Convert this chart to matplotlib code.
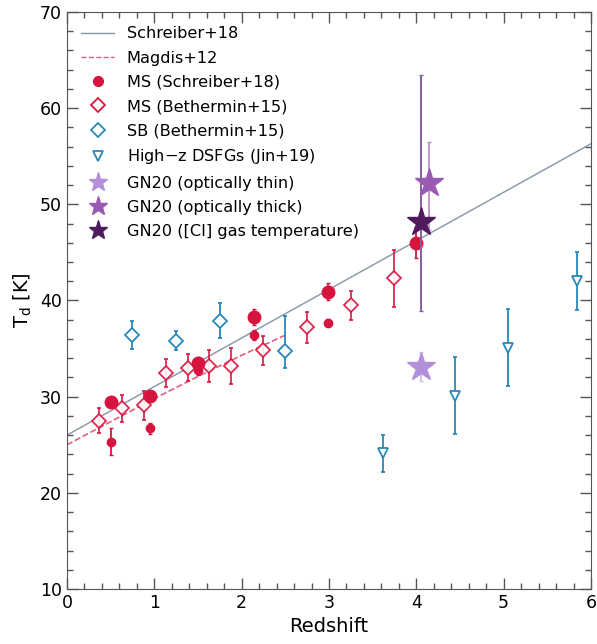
import numpy as np
import matplotlib
matplotlib.use("Agg")
from matplotlib import pyplot as plt
from matplotlib.lines import Line2D
from matplotlib.ticker import MultipleLocator

# model relations
schreiber_z = [0.0, 6.0]
schreiber_T = [26.0, 56.3]
magdis_z = [0.0, 0.5, 1.0, 1.5, 2.0, 2.5]
magdis_T = [25.0, 27.4, 29.8, 32.1, 34.3, 36.4]

# MS (Schreiber+18): large and small circles
s18_big_z = [0.50, 0.95, 1.50, 2.14, 2.99, 4.00]
s18_big_T = [29.4, 30.1, 33.5, 38.3, 40.9, 46.0]
s18_big_e = [0.5, 0.5, 0.6, 0.8, 0.9, 1.6]
s18_small_z = [0.50, 0.95, 1.50, 2.14, 2.99]
s18_small_T = [25.3, 26.7, 32.8, 36.4, 37.7]
s18_small_e = [1.4, 0.6, 0.5, 0.5, 0.4]

# MS (Bethermin+15)
b15ms_z = [0.37, 0.63, 0.88, 1.13, 1.38, 1.63, 1.88, 2.25, 2.75, 3.25, 3.75]
b15ms_T = [27.5, 28.8, 29.1, 32.5, 33.0, 33.2, 33.2, 34.8, 37.2, 39.5, 42.3]
b15ms_e = [1.3, 1.4, 1.5, 1.45, 1.4, 1.65, 1.9, 1.55, 1.6, 1.5, 3.0]

# SB (Bethermin+15)
b15sb_z = [0.75, 1.25, 1.75, 2.50]
b15sb_T = [36.45, 35.8, 37.9, 34.75]
b15sb_lo = [1.45, 1.0, 1.8, 1.8]
b15sb_hi = [1.45, 1.0, 1.8, 3.6]

# High-z DSFGs (Jin+19)
jin_z = [3.62, 4.44, 5.05, 5.84]
jin_T = [24.1, 30.1, 35.1, 42.0]
jin_e = [1.95, 4.0, 4.0, 3.0]

# GN20: z, T, err low, err high
gn_thin = (4.05, 33.1, 1.5, 1.5)
gn_thick = (4.15, 52.2, 4.9, 4.3)
gn_ci = (4.05, 48.2, 9.3, 15.2)

red = "#d7143f"
blue = "#2a88b8"
c_thin = "#b38fd9"
c_thick = "#9a5ab4"
c_ci = "#501a5e"

plt.rcParams["font.family"] = "DejaVu Sans"
fig = plt.figure(figsize=(5.97, 6.44), dpi=100)
ax = fig.add_axes([0.1122, 0.0854, 0.8777, 0.896])

ax.plot(schreiber_z, schreiber_T, "-", color="#8594a6", lw=1.0, zorder=2)
ax.plot(magdis_z, magdis_T, "--", color="#e0607e", lw=1.2, zorder=2)

ax.errorbar(b15ms_z, b15ms_T, yerr=b15ms_e, fmt="D", ms=7, mfc="white", mec=red,
            mew=1.3, ecolor=red, elinewidth=1.3, capsize=1.5, zorder=3, alpha=0.9)
ax.errorbar(b15sb_z, b15sb_T, yerr=[b15sb_lo, b15sb_hi], fmt="D", ms=7, mfc="white",
            mec=blue, mew=1.3, ecolor=blue, elinewidth=1.3, capsize=1.5, zorder=3)
ax.errorbar(jin_z, jin_T, yerr=jin_e, fmt="v", ms=7, mfc="white", mec=blue, mew=1.3,
            ecolor=blue, elinewidth=1.3, capsize=1.5, zorder=3)
ax.errorbar(s18_small_z, s18_small_T, yerr=s18_small_e, fmt="o", ms=6, color=red,
            elinewidth=1.3, capsize=1.5, zorder=4)
ax.errorbar(s18_big_z, s18_big_T, yerr=s18_big_e, fmt="o", ms=9, color=red,
            elinewidth=1.3, capsize=1.5, zorder=4)

ax.errorbar([gn_ci[0]], [gn_ci[1]], yerr=[[gn_ci[2]], [gn_ci[3]]], fmt="none",
            ecolor="#86609a", elinewidth=1.4, capsize=1.5, zorder=5)
ax.errorbar([gn_thick[0]], [gn_thick[1]], yerr=[[gn_thick[2]], [gn_thick[3]]], fmt="none",
            ecolor="#b890c8", elinewidth=1.3, capsize=1.5, zorder=5)
ax.errorbar([gn_thin[0]], [gn_thin[1]], yerr=[[gn_thin[2]], [gn_thin[3]]], fmt="none",
            ecolor="#d4bde8", elinewidth=1.3, capsize=1.5, zorder=5)
ax.plot(gn_thin[0], gn_thin[1], "*", ms=21, color=c_thin, mec=c_thin, zorder=6)
ax.plot(gn_thick[0], gn_thick[1], "*", ms=21, color=c_thick, mec=c_thick, zorder=6)
ax.plot(gn_ci[0], gn_ci[1], "*", ms=21, color=c_ci, mec=c_ci, zorder=6)

handles = [
    Line2D([], [], color="#8594a6", lw=1.0),
    Line2D([], [], color="#e0607e", lw=1.0, ls="--"),
    Line2D([], [], marker="o", ls="none", ms=7, color=red),
    Line2D([], [], marker="D", ls="none", ms=7, mfc="white", mec=red, mew=1.3),
    Line2D([], [], marker="D", ls="none", ms=7, mfc="white", mec=blue, mew=1.3),
    Line2D([], [], marker="v", ls="none", ms=7, mfc="white", mec=blue, mew=1.3),
    Line2D([], [], marker="*", ls="none", ms=14, color=c_thin),
    Line2D([], [], marker="*", ls="none", ms=14, color=c_thick),
    Line2D([], [], marker="*", ls="none", ms=14, color=c_ci),
]
labels = ["Schreiber+18", "Magdis+12", "MS (Schreiber+18)", "MS (Bethermin+15)",
          "SB (Bethermin+15)", "High$-$z DSFGs (Jin+19)", "GN20 (optically thin)",
          "GN20 (optically thick)", "GN20 ([CI] gas temperature)"]
ax.legend(handles, labels, loc="upper left", frameon=False, fontsize=11.6,
          labelspacing=0.57, handlelength=2.0, borderaxespad=0.5)

ax.set_xlim(0, 6)
ax.set_ylim(10, 70)
ax.xaxis.set_major_locator(MultipleLocator(1))
ax.xaxis.set_minor_locator(MultipleLocator(0.2))
ax.yaxis.set_major_locator(MultipleLocator(10))
ax.yaxis.set_minor_locator(MultipleLocator(2))
ax.tick_params(which="both", direction="in", top=True, right=True, labelsize=12.5,
               color="#555555")
ax.tick_params(which="major", length=8, width=1)
ax.tick_params(which="minor", length=4, width=1)
for sp in ax.spines.values():
    sp.set_color("#555555")
ax.set_xlabel("Redshift", fontsize=14)
ax.set_ylabel("T$_\\mathrm{d}$ [K]", fontsize=14)

fig.savefig("out.png", dpi=100)
